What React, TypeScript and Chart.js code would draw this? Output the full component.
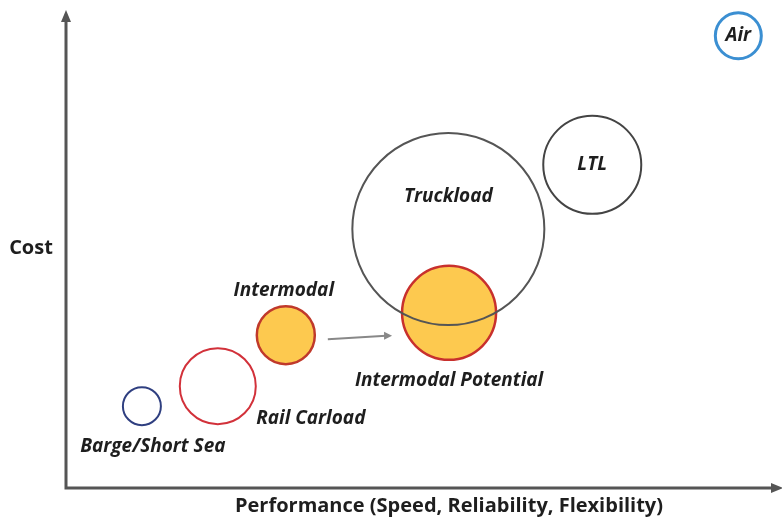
import React, { useEffect, useRef } from "react";
import { Chart, registerables } from "chart.js";

Chart.register(...registerables);

const modes = ["Barge/Short Sea", "Rail Carload", "Intermodal", "Intermodal Potential", "Truckload", "LTL", "Air"];
const performance = [10.6, 21.2, 30.7, 53.5, 53.4, 73.5, 93.9];
const cost = [17.2, 21.4, 32.1, 36.8, 54.4, 67.9, 95.0];
const bubbleSize = [19, 38, 29, 47, 96, 49, 23];
const fillColors = ["rgba(0,0,0,0)", "rgba(0,0,0,0)", "#FDC94F", "#FDC94F", "rgba(0,0,0,0)", "rgba(0,0,0,0)", "rgba(0,0,0,0)"];
const borderColors = ["#2F3F80", "#D2313A", "#C0392B", "#C8302D", "#555555", "#444444", "#3B8FD2"];
const borderWidths = [2, 2, 2.5, 2.5, 2, 2, 3];
// label placement relative to bubble: [dx, dy] in px
const labelOffsets = [[11, 40], [93, 32], [-2, -45], [0, 68], [0, -32], [0, 0], [0, 0]];
const xTitle = "Performance (Speed, Reliability, Flexibility)";
const yTitle = "Cost";

const overlay = {
  id: "overlay",
  afterDatasetsDraw(chart: any) {
    const ctx = chart.ctx;
    const { left, right, top, bottom } = chart.chartArea;
    const xs = chart.scales.x;
    const ys = chart.scales.y;
    ctx.save();
    // axes
    ctx.strokeStyle = "#555";
    ctx.fillStyle = "#555";
    ctx.lineWidth = 3;
    ctx.beginPath();
    ctx.moveTo(left, top + 6);
    ctx.lineTo(left, bottom);
    ctx.lineTo(right - 6, bottom);
    ctx.stroke();
    ctx.beginPath();
    ctx.moveTo(left, top - 2);
    ctx.lineTo(left - 5, top + 10);
    ctx.lineTo(left + 5, top + 10);
    ctx.closePath();
    ctx.fill();
    ctx.beginPath();
    ctx.moveTo(right + 1, bottom);
    ctx.lineTo(right - 11, bottom - 5);
    ctx.lineTo(right - 11, bottom + 5);
    ctx.closePath();
    ctx.fill();

    // arrow intermodal -> potential
    const x1 = xs.getPixelForValue(performance[2]) + bubbleSize[2] + 13;
    const y1 = ys.getPixelForValue(cost[2]) + 4;
    const x2 = xs.getPixelForValue(performance[3]) - bubbleSize[3] - 10;
    const y2 = ys.getPixelForValue(cost[3]) + 23;
    ctx.strokeStyle = "#888";
    ctx.fillStyle = "#888";
    ctx.lineWidth = 2;
    ctx.beginPath();
    ctx.moveTo(x1, y1);
    ctx.lineTo(x2 - 6, y2);
    ctx.stroke();
    ctx.beginPath();
    ctx.moveTo(x2, y2);
    ctx.lineTo(x2 - 8, y2 - 4);
    ctx.lineTo(x2 - 8, y2 + 4);
    ctx.closePath();
    ctx.fill();

    // bubble labels
    ctx.fillStyle = "#1e1e1e";
    ctx.textAlign = "center";
    ctx.textBaseline = "middle";
    ctx.font = "italic bold 19px 'Open Sans', sans-serif";
    modes.forEach((m, i) => {
      const px = xs.getPixelForValue(performance[i]) + labelOffsets[i][0];
      const py = ys.getPixelForValue(cost[i]) + labelOffsets[i][1];
      ctx.fillText(m, px, py);
    });

    // axis titles
    ctx.font = "bold 20px 'Open Sans', sans-serif";
    ctx.fillStyle = "#1e1e1e";
    ctx.fillText(xTitle, 449, 506);
    ctx.fillText(yTitle, 31, 248);
    ctx.restore();
  },
};

export default function App() {
  const ref = useRef<HTMLCanvasElement>(null);
  useEffect(() => {
    document.body.style.margin = "0";
    const chart = new Chart(ref.current as HTMLCanvasElement, {
      type: "bubble",
      data: {
        datasets: [
          {
            data: modes.map((_, i) => ({ x: performance[i], y: cost[i], r: bubbleSize[i] })),
            backgroundColor: fillColors,
            borderColor: borderColors,
            borderWidth: borderWidths,
            hoverBorderWidth: borderWidths,
            clip: false,
          },
        ],
      },
      options: {
        responsive: false,
        animation: false,
        layout: { autoPadding: false, padding: { left: 66, right: 0, top: 12, bottom: 35 } },
        plugins: { legend: { display: false }, tooltip: { enabled: false } },
        scales: {
          x: { type: "linear", min: 0, max: 100, display: false },
          y: { type: "linear", min: 0, max: 100, display: false },
        },
      },
      plugins: [overlay],
    });
    return () => chart.destroy();
  }, []);
  return (
    <div style={{ width: 782, height: 523, background: "#fff" }}>
      <canvas ref={ref} width={782} height={523} />
    </div>
  );
}
